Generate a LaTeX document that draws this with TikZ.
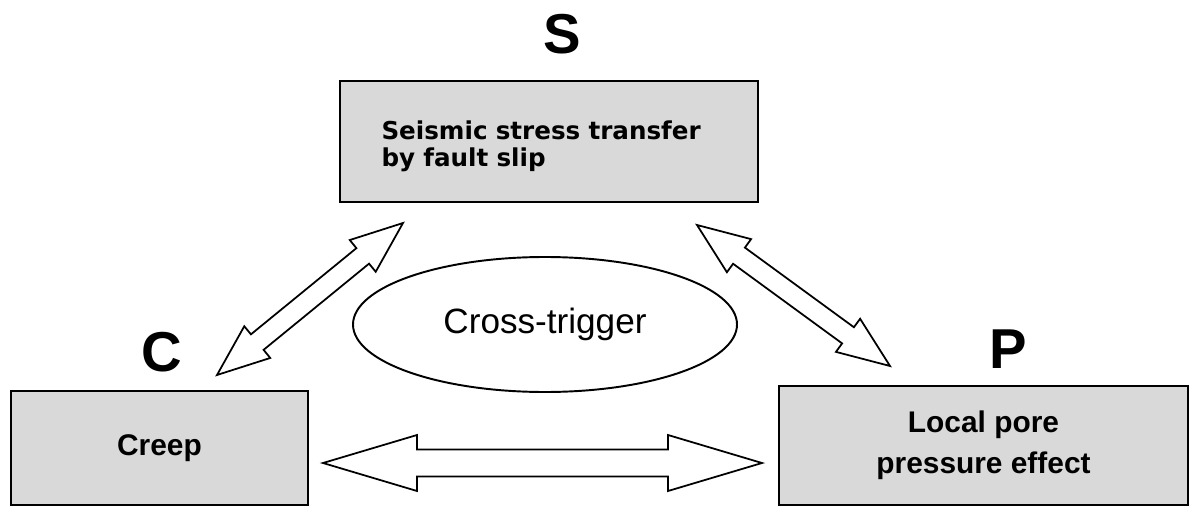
\documentclass[tikz,border=0pt]{standalone}
\usepackage{fontspec}
\setmainfont{Liberation Sans}
\newfontfamily\verdanafont{DejaVu Sans}
\usetikzlibrary{shapes.geometric, calc}
\definecolor{boxgray}{HTML}{D9D9D9}

% hollow two-headed arrow: from, to, head length, head half width, shaft half width
\newcommand{\fatarrow}[5]{%
	\draw[fat] (#1) -- ($(#1)!#3!(#2)!#4!90:(#2)$) -- ($(#1)!#3!(#2)!#5!90:(#2)$)
		-- ($(#2)!#3!(#1)!#5!-90:(#1)$) -- ($(#2)!#3!(#1)!#4!-90:(#1)$) -- (#2)
		-- ($(#2)!#3!(#1)!#4!90:(#1)$) -- ($(#2)!#3!(#1)!#5!90:(#1)$)
		-- ($(#1)!#3!(#2)!#5!-90:(#2)$) -- ($(#1)!#3!(#2)!#4!-90:(#2)$) -- cycle;}

\begin{document}
\begin{tikzpicture}[x=0.2mm, y=-0.2mm,
	box/.style={draw, line width=1.4pt, fill=boxgray, inner sep=0pt},
	letter/.style={font=\fontsize{32}{38}\selectfont\bfseries},
	fat/.style={draw, line width=1pt, fill=white, line join=miter}]
		\useasboundingbox (0,0) rectangle (1190,506);
		\node[letter] (s) at (562,34) {S};
		\node[letter] (c) at (162,352) {C};
		\node[letter] (p) at (1008,349) {P};
		\node[box, minimum width=8.36cm, minimum height=2.42cm, text width=6.7cm, align=left, font=\verdanafont\fontsize{14}{15}\selectfont\bfseries] (seismic) at (549,141.5) {\rule{0pt}{5.6mm}Seismic stress transfer\\by fault slip};
		\node[box, minimum width=5.94cm, minimum height=2.28cm, font=\fontsize{17}{23.5}\selectfont\bfseries] (creep) at (159.5,448) {Creep};
		\node[box, minimum width=8.18cm, minimum height=2.38cm, align=center, font=\fontsize{17}{23.5}\selectfont\bfseries] (pore) at (983.5,445.5) {Local pore\\pressure effect};
		\node[draw, ellipse, line width=1.1pt, minimum width=7.68cm, minimum height=2.7cm, inner sep=0pt, font=\fontsize{20}{24}\selectfont] (cross) at (545,324.5) {Cross-trigger};
		\coordinate (cs1) at (217,375);
		\coordinate (cs2) at (403,223);
		\coordinate (sp1) at (697,225);
		\coordinate (sp2) at (890,366);
		\coordinate (cp1) at (323,463);
		\coordinate (cp2) at (762,463);
		\fatarrow{cs1}{cs2}{10.4mm}{4.1mm}{2mm}
		\fatarrow{sp1}{sp2}{10.4mm}{4.1mm}{2mm}
		\fatarrow{cp1}{cp2}{18.8mm}{5.6mm}{2.7mm}
	\end{tikzpicture}
\end{document}
